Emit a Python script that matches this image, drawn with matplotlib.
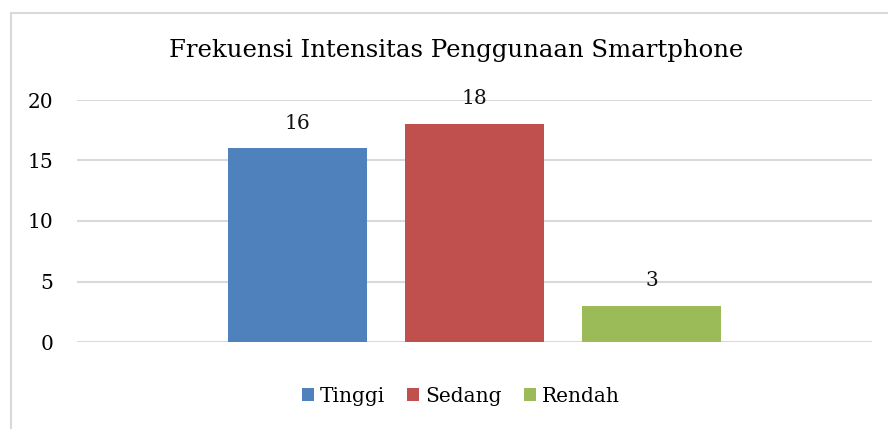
import matplotlib
matplotlib.use("Agg")
import matplotlib.pyplot as plt
from matplotlib.patches import Rectangle

categories = ["Tinggi", "Sedang", "Rendah"]
values = [16, 18, 3]
colors = ["#4F81BD", "#C0504D", "#9BBB59"]
yticks = [0, 5, 10, 15, 20]

plt.rcParams['font.family'] = ['DejaVu Serif']

W, H = 888, 429
fig = plt.figure(figsize=(W / 100, H / 100), dpi=100)
ax = fig.add_axes([77 / W, 1 - 342 / H, (872 - 77) / W, (342 - 100) / H])

width = 139 / 177
for i, (c, v, col) in enumerate(zip(categories, values, colors)):
    ax.bar(i, v, width=width, color=col, label=c, zorder=3)
    ax.text(i, v + 1.3, str(v), ha='center', va='bottom', fontsize=14.5, color='#111111')

ax.set_xlim(1 - 2.246, 1 + 2.246)
ax.set_ylim(0, 20)
ax.set_yticks(yticks)
ax.set_yticklabels([str(t) for t in yticks], fontsize=14.5)
ax.tick_params(axis='y', length=0, pad=17)
ax.set_xticks([])
for s in ax.spines.values():
    s.set_visible(False)
ax.grid(axis='y', color='#D9D9D9', linewidth=1.5, zorder=0)

fig.text(456 / W, 1 - 50 / H, "Frekuensi Intensitas Penggunaan Smartphone", ha='center', va='center', fontsize=17.6)

leg = fig.legend(loc='center', bbox_to_anchor=(461 / W, 1 - 396 / H), ncol=3, frameon=False,
                 fontsize=14.5, handlelength=0.6, handleheight=0.6, handletextpad=0.3,
                 columnspacing=1.1)

fig.patches.append(Rectangle((11 / W, -0.1), 1.2, 1 - 13 / H + 0.1, transform=fig.transFigure,
                             fill=False, edgecolor='#D9D9D9', linewidth=1.5))

fig.savefig("out.png", dpi=100)
